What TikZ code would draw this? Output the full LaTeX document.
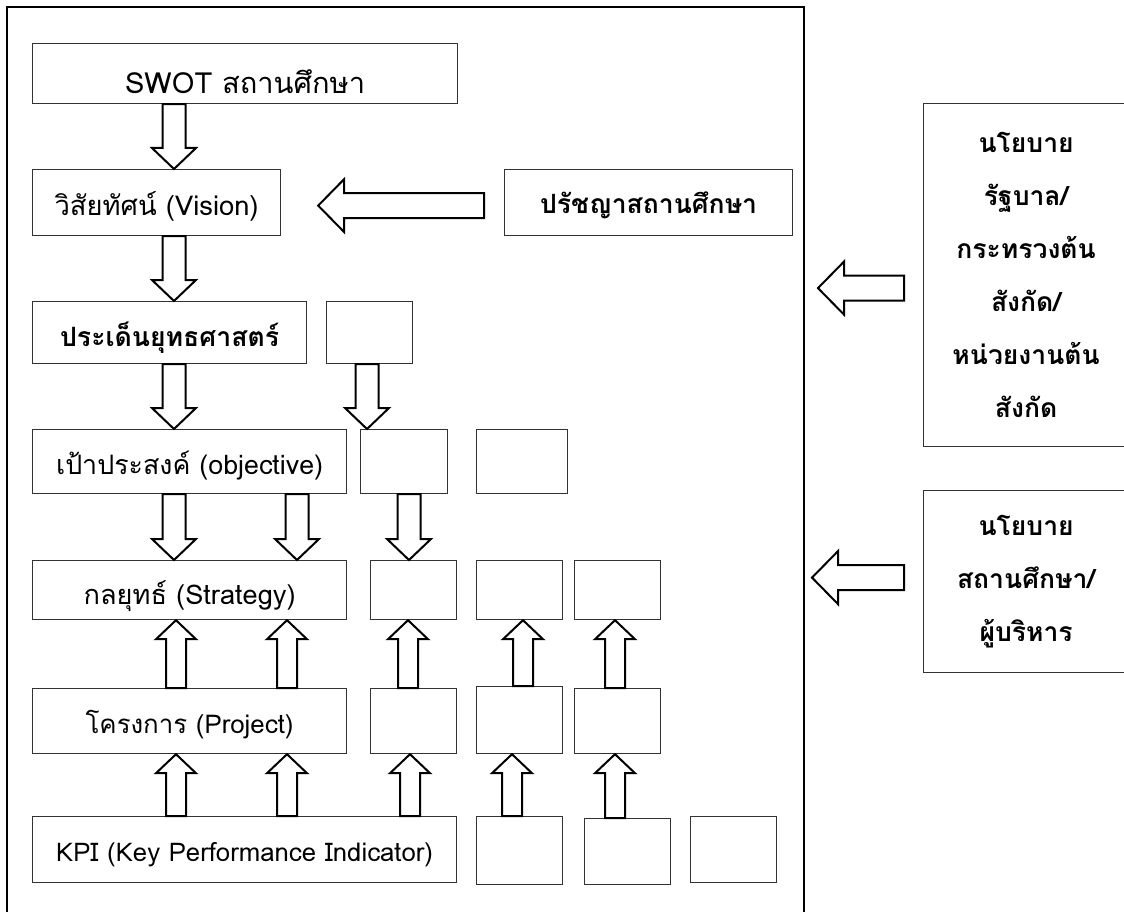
\documentclass[tikz,border=0pt]{standalone}
\usepackage{fontspec}
\usepackage{graphicx}
\setmainfont[Script=Thai]{Loma}
\usetikzlibrary{calc}
% fonts loaded directly at exact sizes
\font\fReg="Loma:script=thai" at 24pt
\font\fBold="Loma/B:script=thai" at 24pt
\font\fRight="Loma/B:script=thai" at 26.5pt
% text scaled to a given width (in px = pt)
\newcommand\tw[2]{\resizebox{#1pt}{!}{#2}}
\tikzset{
  box/.style={draw=black!80, line width=1.2pt, inner sep=0pt, anchor=north west, align=center},
  barrow/.style={draw=black, line width=2pt, fill=white, line join=miter},
  frameline/.style={draw=black, line width=2pt},
  % baseline placed #1 below the box centre
  base/.style={text height=2*#1, text depth=0pt},
  rlbl/.style={font={\fRight\baselineskip=53pt}},
}
% box: name, left, top, right, bottom, style, text
\newcommand\mkbox[7]{\node[box,#6,minimum width={(#4-#2)*1pt},minimum height={(#5-#3)*1pt}] (#1) at (#2,#3) {#7};}
% down block arrow (start) (tip)
\newcommand\downarr[2]{\draw[barrow] let \p1=#1, \p2=#2 in
  (\x1-11.5pt,\y1) -- (\x1-11.5pt,\y2+21pt) -- (\x1-22pt,\y2+21pt) -- (\x1,\y2) --
  (\x1+22pt,\y2+21pt) -- (\x1+11.5pt,\y2+21pt) -- (\x1+11.5pt,\y1) -- cycle;}
% up block arrow (start) (tip)
\newcommand\uparr[2]{\draw[barrow] let \p1=#1, \p2=#2 in
  (\x1-10pt,\y1) -- (\x1-10pt,\y2-19pt) -- (\x1-20pt,\y2-19pt) -- (\x1,\y2) --
  (\x1+20pt,\y2-19pt) -- (\x1+10pt,\y2-19pt) -- (\x1+10pt,\y1) -- cycle;}
% left block arrow (start) (tip)
\newcommand\leftarr[2]{\draw[barrow] let \p1=#1, \p2=#2 in
  (\x1,\y1+12.5pt) -- (\x2+26pt,\y1+12.5pt) -- (\x2+26pt,\y1+26.5pt) -- (\x2,\y1) --
  (\x2+26pt,\y1-26.5pt) -- (\x2+26pt,\y1-12.5pt) -- (\x1,\y1-12.5pt) -- cycle;}
\begin{document}
\begin{tikzpicture}[x=1pt,y=-1pt]
\useasboundingbox (0,0) rectangle (1124,912);
\clip (0,0) rectangle (1124,912);
\fill[white] (0,0) rectangle (1124,912);
% outer frame
\draw[frameline] (7,930) -- (7,7) -- (804,7) -- (804,930);
% left column
\mkbox{swot}{32}{43}{457}{103}{font=\fReg, base=20pt}{\tw{240}{SWOT สถานศึกษา}}
\mkbox{vision}{32}{169}{280}{235}{font=\fReg, base=13pt}{\tw{204}{วิสัยทัศน์ (Vision)}}
\mkbox{phil}{504}{169}{792}{235}{font=\fBold, base=11pt}{\tw{217}{ปรัชญาสถานศึกษา}}
\mkbox{issue}{32}{301}{306}{363}{font=\fBold, base=13.5pt}{\tw{219}{ประเด็นยุทธศาสตร์}}
\mkbox{issueb}{326}{301}{412}{363}{}{}
\mkbox{obj}{32}{429}{346}{493}{font=\fReg, base=13pt}{\tw{267}{เป้าประสงค์ (objective)}}
\mkbox{objb}{360}{429}{447}{493}{}{}
\mkbox{objc}{476}{429}{567}{493}{}{}
\mkbox{str}{32}{560}{346}{619}{font=\fReg, base=14.5pt}{\tw{212}{กลยุทธ์ (Strategy)}}
\mkbox{strb}{370}{560}{456}{619}{}{}
\mkbox{strc}{476}{560}{562}{619}{}{}
\mkbox{strd}{574}{560}{660}{619}{}{}
\mkbox{proj}{32}{688}{346}{753}{font=\fReg, base=12.5pt}{\tw{208}{โครงการ (Project)}}
\mkbox{projb}{370}{688}{456}{753}{}{}
\mkbox{projc}{476}{686}{562}{753}{}{}
\mkbox{projd}{574}{688}{660}{753}{}{}
\mkbox{kpi}{32}{816}{456}{882}{font=\fReg, base=12pt}{\tw{377}{KPI (Key Performance Indicator)}}
\mkbox{kpib}{476}{816}{562}{884}{}{}
\mkbox{kpic}{584}{818}{670}{884}{}{}
\mkbox{kpid}{690}{816}{776}{882}{}{}
% right boxes
\mkbox{gov}{923}{103}{1128}{446}{rlbl}{นโยบาย\\รัฐบาล/\\กระทรวงต้น\\สังกัด/\\หน่วยงานต้น\\สังกัด}
\mkbox{sch}{923}{490}{1128}{672}{rlbl}{นโยบาย\\สถานศึกษา/\\ผู้บริหาร}
% down arrows
\downarr{(174,0 |- swot.south)}{(174,0 |- vision.north)}
\downarr{(174,0 |- vision.south)}{(174,0 |- issue.north)}
\downarr{(174,0 |- issue.south)}{(174,0 |- obj.north)}
\downarr{(367,0 |- issueb.south)}{(367,0 |- objb.north)}
\downarr{(174,0 |- obj.south)}{(174,0 |- str.north)}
\downarr{(297,0 |- obj.south)}{(297,0 |- str.north)}
\downarr{(409,0 |- objb.south)}{(409,0 |- strb.north)}
% up arrows project -> strategy
\uparr{(176,0 |- proj.north)}{(176,0 |- str.south)}
\uparr{(287,0 |- proj.north)}{(287,0 |- str.south)}
\uparr{(408,0 |- projb.north)}{(408,0 |- strb.south)}
\uparr{(523,0 |- projc.north)}{(523,0 |- strc.south)}
\uparr{(615,0 |- projd.north)}{(615,0 |- strd.south)}
% up arrows kpi -> project
\uparr{(176,0 |- kpi.north)}{(176,0 |- proj.south)}
\uparr{(287,0 |- kpi.north)}{(287,0 |- proj.south)}
\uparr{(410,0 |- kpi.north)}{(410,0 |- projb.south)}
\uparr{(512,0 |- kpib.north)}{(512,0 |- projc.south)}
\uparr{(615,0 |- kpic.north)}{(615,0 |- projd.south)}
% horizontal arrows
\coordinate (phA) at ($(phil.west)+(-20,3)$);
\coordinate (phB) at ($(vision.east)+(37,3)$);
\leftarr{(phA)}{(phB)}
\coordinate (gvA) at ($(gov.west)+(-19,13)$);
\coordinate (gvB) at (818,0 |- gvA);
\leftarr{(gvA)}{(gvB)}
\coordinate (scA) at ($(sch.west)+(-19,-4)$);
\coordinate (scB) at (812,0 |- scA);
\leftarr{(scA)}{(scB)}
\end{tikzpicture}
\end{document}
